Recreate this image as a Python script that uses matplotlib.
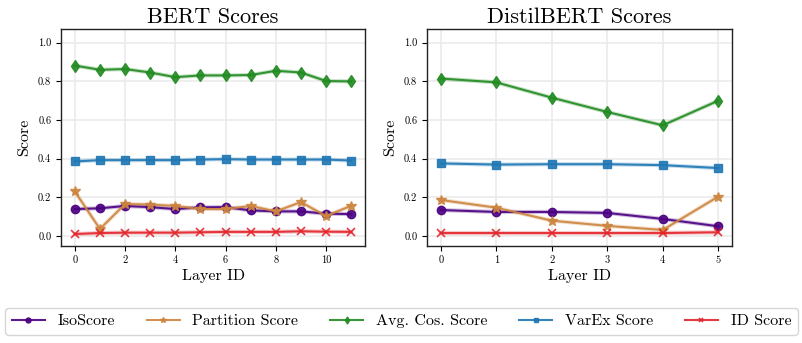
import matplotlib
matplotlib.use("Agg")
import matplotlib.pyplot as plt
import numpy as np

plt.rcParams['font.family'] = 'serif'
plt.rcParams['font.serif'] = ['cmr10', 'DejaVu Serif']
plt.rcParams['mathtext.fontset'] = 'cm'
plt.rcParams['axes.formatter.use_mathtext'] = True

bert_layers = list(range(12))
distil_layers = list(range(6))

series_names = ["IsoScore", "Partition Score", "Avg. Cos. Score", "VarEx Score", "ID Score"]

bert_iso = [0.139, 0.143, 0.155, 0.149, 0.139, 0.148, 0.149, 0.132, 0.127, 0.127, 0.115, 0.113]
bert_part = [0.230, 0.036, 0.165, 0.162, 0.155, 0.139, 0.139, 0.155, 0.127, 0.175, 0.103, 0.156]
bert_cos = [0.881, 0.859, 0.863, 0.845, 0.821, 0.830, 0.830, 0.832, 0.854, 0.845, 0.801, 0.799]
bert_varex = [0.385, 0.392, 0.392, 0.392, 0.392, 0.395, 0.397, 0.395, 0.395, 0.395, 0.395, 0.390]
bert_id = [0.010, 0.015, 0.017, 0.017, 0.017, 0.019, 0.021, 0.021, 0.021, 0.024, 0.022, 0.021]

distil_iso = [0.134, 0.124, 0.124, 0.119, 0.088, 0.050]
distil_part = [0.186, 0.146, 0.079, 0.052, 0.031, 0.203]
distil_cos = [0.814, 0.794, 0.715, 0.641, 0.572, 0.699]
distil_varex = [0.375, 0.369, 0.371, 0.371, 0.366, 0.351]
distil_id = [0.015, 0.015, 0.015, 0.015, 0.015, 0.019]

colors = ["#4B0082", "#CD853F", "#228B22", "#1f77b4", "#e3242b"]
markers = ["o", "*", "d", "s", "x"]

fig = plt.figure(figsize=(8.03, 3.43), dpi=100)
ax1 = fig.add_axes([61/803, 1-246/343, (365-61)/803, (246-29)/343])
ax2 = fig.add_axes([427/803, 1-246/343, (732-427)/803, (246-29)/343])

panels = [
    (ax1, bert_layers, [bert_iso, bert_part, bert_cos, bert_varex, bert_id], "BERT Scores", [0, 2, 4, 6, 8, 10]),
    (ax2, distil_layers, [distil_iso, distil_part, distil_cos, distil_varex, distil_id], "DistilBERT Scores", [0, 1, 2, 3, 4, 5]),
]

handles = []
for ax, xs, ys_list, title, xt in panels:
    for ys, c, m, name in zip(ys_list, colors, markers, series_names):
        ax.plot(xs, ys, color=c, lw=3.0, alpha=0.25, zorder=2)
        h, = ax.plot(xs, ys, color=c, marker=m, lw=1.5, ms=6 if m != "*" else 7,
                     markeredgewidth=1.0 if m != "x" else 1.2, alpha=0.9, label=name, zorder=3)
        if ax is ax1:
            handles.append(h)
    ax.set_ylim(-0.052, 1.07)
    ax.set_yticks([0.0, 0.2, 0.4, 0.6, 0.8, 1.0])
    ax.set_yticklabels(["0.0", "0.2", "0.4", "0.6", "0.8", "1.0"])
    ax.set_xticks(xt)
    ax.set_xticklabels([str(v) for v in xt])
    ax.tick_params(labelsize=7.5, direction='out', length=3.5, width=0.8)
    ax.grid(True, color="#ebebeb", lw=1.2)
    ax.set_axisbelow(True)
    ax.set_title(title, fontsize=16, pad=4)
    ax.set_xlabel("Layer ID", fontsize=11.5, labelpad=3)
    ax.set_ylabel("Score", fontsize=11.5, labelpad=5)
    for s in ax.spines.values():
        s.set_linewidth(1.0)
        s.set_color("#222222")

leg = fig.legend(handles, series_names, loc='center', bbox_to_anchor=(0.5, 0.064), ncol=5,
                 fontsize=11.5, markerscale=0.6, handlelength=2.05, handletextpad=0.8,
                 columnspacing=2.0, frameon=True, fancybox=True, borderpad=0.4)
leg.get_frame().set_edgecolor("#cccccc")
leg.get_frame().set_linewidth(1.0)

fig.savefig("out.png", dpi=100)
